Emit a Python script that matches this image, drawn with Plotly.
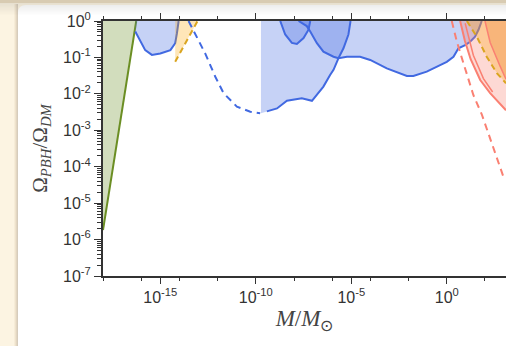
import numpy as np
import plotly.graph_objects as go

# ---------------- data (log10 values) ----------------
x_tick_exp = [-15, -10, -5, 0]
x_minor_exp = [-18, -16, -14, -12, -8, -6, -4, -2, 2]
y_tick_exp = [0, -1, -2, -3, -4, -5, -6, -7]

# evaporation bound (green)
evap_logM = [-18.0, -16.26]
evap_logf = [-5.74, 0.0]

# femtolensing-like blue bound (left)
femto_logM = [-16.31, -15.79, -15.44, -15.0, -14.47, -14.22, -14.13, -14.04]
femto_logf = [-0.29, -0.80, -0.93, -0.89, -0.80, -0.61, -0.34, 0.0]

# small gold dashed bound
gold1_logM = [-14.22, -13.05]
gold1_logf = [-1.12, 0.0]

# blue dashed projection
bdash_logM = [-13.52, -13.08, -12.65, -12.12, -11.69, -10.99, -10.29, -9.77]
bdash_logf = [0.0, -0.43, -0.89, -1.53, -1.98, -2.35, -2.49, -2.53]

# big blue bound A
blueA_logM = [-9.73, -9.42, -8.89, -8.37, -7.59, -7.06, -6.46, -6.11, -5.93,
              -5.67, -5.41, -5.15, -5.04]
blueA_logf = [-2.53, -2.48, -2.40, -2.19, -2.12, -2.19, -1.80, -1.48, -1.34,
              -1.02, -0.75, -0.37, 0.0]

# small U-shaped blue bound
blueU_logM = [-8.72, -8.46, -8.11, -7.85, -7.50, -7.24, -7.15]
blueU_logf = [0.0, -0.37, -0.60, -0.63, -0.47, -0.24, 0.0]

# microlensing blue bound B
blueB_logM = [-7.76, -7.33, -7.15, -6.80, -6.46, -5.93, -5.67, -5.23, -4.54,
              -4.01, -3.14, -2.09, -1.75, -1.05, -0.35, 0.0, 0.35, 0.61, 0.96,
              1.22, 1.48, 1.66, 1.83]
blueB_logf = [0.0, -0.14, -0.29, -0.61, -0.84, -0.98, -1.02, -0.98, -0.98,
              -1.07, -1.30, -1.51, -1.51, -1.39, -1.21, -1.12, -0.98, -0.75, -0.66,
              -0.57, -0.43, -0.24, 0.0]

# salmon dashed projection
sdash_logM = [0.26, 0.52, 0.79, 1.05, 1.39, 1.83, 2.18, 2.53, 2.96]
sdash_logf = [0.0, -0.55, -1.02, -1.48, -2.03, -2.56, -3.08, -3.63, -4.27]

# salmon filled bound (outer edge) and inner edge
salm_logM = [0.70, 0.95, 1.25, 1.55, 1.75, 2.27, 3.10]
salm_logf = [0.0, -0.55, -1.05, -1.42, -1.62, -1.98, -2.45]
salm2_logM = [0.96, 1.39, 1.92, 2.40]
salm2_logf = [-0.06, -0.94, -1.58, -1.95]

# gold dashed bound (right)
gold2_logM = [1.05, 1.57, 2.09, 2.62, 3.10]
gold2_logf = [0.0, -0.43, -0.98, -1.43, -1.71]

# orange bound (right)
orng_logM = [2.00, 2.27, 2.79, 3.10]
orng_logf = [0.0, -0.59, -1.24, -1.60]

# ---------------- helpers ----------------
W, H = 506, 346
ML, MR, MT, MB = 103, 0, 21, 70
PW, PH = W - ML - MR, H - MT - MB


def px(x):
    return (x - ML) / PW


def py(y):
    return (H - MB - y) / PH


def p10(a):
    return list(np.power(10.0, np.asarray(a, dtype=float)))


BLUE = "#4169e1"
BLUE_F = "rgba(65,105,225,0.30)"
GREEN = "#6b8e23"
GREEN_F = "rgba(107,142,35,0.30)"
GOLD = "#daa520"
GOLD_F = "rgba(255,165,0,0.28)"
SALM = "#fa8072"
SALM_F = "rgba(250,128,114,0.30)"
ORNG_F = "rgba(244,164,96,0.55)"

fig = go.Figure()


def add_fill(xs, ys, color):
    fig.add_trace(go.Scatter(x=p10(xs), y=p10(ys), mode="lines", fill="toself",
                             fillcolor=color, line=dict(width=0),
                             hoverinfo="skip", showlegend=False))


def add_line(xs, ys, color, dash="solid", width=2):
    fig.add_trace(go.Scatter(x=p10(xs), y=p10(ys), mode="lines",
                             line=dict(color=color, width=width, dash=dash),
                             hoverinfo="skip", showlegend=False))


TOP = 0.6
# green
add_fill(evap_logM + [evap_logM[-1], -18.5, -18.5],
         evap_logf + [TOP, TOP, evap_logf[0]], GREEN_F)
add_line(evap_logM, evap_logf, GREEN)

# left blue
add_fill(femto_logM + [femto_logM[-1], -16.26],
         femto_logf + [TOP, TOP], BLUE_F)
add_line(femto_logM, femto_logf, BLUE)

# small gold
add_fill(gold1_logM + [gold1_logM[-1], gold1_logM[0]],
         gold1_logf + [TOP, TOP], GOLD_F)
add_line(gold1_logM, gold1_logf, GOLD, dash="6px,4px")

# blue dashed
add_line(bdash_logM, bdash_logf, BLUE, dash="7px,5px")

# blue A
add_fill(blueA_logM + [blueA_logM[-1], blueA_logM[0]],
         blueA_logf + [TOP, TOP], BLUE_F)
add_line(blueA_logM[1:], blueA_logf[1:], BLUE)
# blue U
add_fill(blueU_logM + [blueU_logM[-1], blueU_logM[0]],
         blueU_logf + [TOP, TOP], BLUE_F)
add_line(blueU_logM, blueU_logf, BLUE)
# blue B
add_fill(blueB_logM + [blueB_logM[-1], blueB_logM[0]],
         blueB_logf + [TOP, TOP], BLUE_F)
add_line(blueB_logM, blueB_logf, BLUE)

# right salmon/orange
add_fill(salm_logM + [3.6, 3.6, salm_logM[0]],
         salm_logf + [salm_logf[-1], TOP, TOP], SALM_F)
add_fill(gold2_logM + [3.6, 3.6, gold2_logM[0]],
         gold2_logf + [gold2_logf[-1], TOP, TOP], GOLD_F)
add_fill(orng_logM + [3.6, 3.6, orng_logM[0]],
         orng_logf + [orng_logf[-1], TOP, TOP], ORNG_F)
add_line(sdash_logM, sdash_logf, SALM, dash="7px,5px")
add_line(salm_logM, salm_logf, SALM)
add_line(salm2_logM, salm2_logf, SALM, width=1.5)
add_line(orng_logM, orng_logf, SALM, width=1.5)
add_line(gold2_logM, gold2_logf, GOLD, dash="6px,4px")

# ---------------- background card (screenshot frame) ----------------
shapes = []
shapes.append(dict(type="rect", xref="paper", yref="paper",
                   x0=px(0), x1=px(W), y0=py(H), y1=py(0),
                   fillcolor="#fcf4e2", line=dict(width=0), layer="below"))
# left shadow
for i, c in enumerate(["#f6ecd8", "#eee2cc", "#e2d6c2", "#d6ccbc"]):
    shapes.append(dict(type="rect", xref="paper", yref="paper",
                       x0=px(14 + i), x1=px(15 + i + 0.01), y0=py(H), y1=py(4),
                       fillcolor=c, line=dict(width=0), layer="below"))
r = 8
x0c, y0c = 18, 5
card = (f"M {px(x0c)},{py(H + 20)} L {px(x0c)},{py(y0c + r)} "
        f"Q {px(x0c)},{py(y0c)} {px(x0c + r)},{py(y0c)} "
        f"L {px(W + 20)},{py(y0c)} L {px(W + 20)},{py(H + 20)} Z")
shapes.append(dict(type="path", xref="paper", yref="paper", path=card,
                   fillcolor="white", line=dict(width=0), layer="below"))
# top tan strip
shapes.append(dict(type="rect", xref="paper", yref="paper",
                   x0=px(0), x1=px(W), y0=py(3), y1=py(0),
                   fillcolor="#d8cbb2", line=dict(width=0), layer="below"))
# top gray gradient
for i in range(12):
    a = 0.13 * (1 - i / 12.0)
    shapes.append(dict(type="rect", xref="paper", yref="paper",
                       x0=px(0), x1=px(W), y0=py(4 + i), y1=py(3 + i),
                       fillcolor=f"rgba(90,90,90,{a:.3f})", line=dict(width=0),
                       layer="below"))

TICKC = "#333333"
tickfont = dict(family="Liberation Sans, Arial, sans-serif", size=16, color="#333333")

fig.update_layout(
    width=W, height=H,
    margin=dict(l=ML, r=MR, t=MT, b=MB, pad=0),
    paper_bgcolor="#fcf4e2",
    plot_bgcolor="white",
    shapes=shapes,
    showlegend=False,
)

fig.update_xaxes(
    type="log", range=[-18, 3.10],
    tickvals=p10(x_tick_exp),
    ticktext=[f"10<sup>{e}</sup>" for e in x_tick_exp],
    ticks="outside", ticklen=6, tickwidth=1.3, tickcolor=TICKC,
    minor=dict(tickvals=p10(x_minor_exp), ticks="outside", ticklen=3,
               tickwidth=1.1, tickcolor=TICKC, showgrid=False),
    showline=True, linecolor="#333333", linewidth=2, mirror="allticks",
    showgrid=False, zeroline=False, tickfont=tickfont,
    title=dict(text="<i>M</i>/<i>M</i><sub>\u2299</sub>",
               font=dict(family="Liberation Serif, serif", size=23, color="#444444"),
               standoff=5),
)
y_minor = [k * 10.0 ** e for e in range(-7, 0) for k in range(2, 10)]
fig.update_yaxes(
    type="log", range=[-7, 0],
    tickvals=p10(y_tick_exp),
    ticktext=[f"10<sup>{e}</sup>" for e in y_tick_exp],
    ticks="outside", ticklen=7, tickwidth=1.3, tickcolor=TICKC,
    minor=dict(tickvals=y_minor, ticks="outside", ticklen=4,
               tickwidth=1.0, tickcolor=TICKC, showgrid=False),
    showline=True, linecolor="#333333", linewidth=2, mirror=False,
    showgrid=False, zeroline=False, tickfont=tickfont,
    title=dict(text="\u03a9<sub><i>PBH</i></sub>/\u03a9<sub><i>DM</i></sub>",
               font=dict(family="Liberation Serif, serif", size=21, color="#444444"),
               standoff=10),
)

fig.write_html("out.html", config={"displayModeBar": False},
               post_script="document.body.style.margin='0';document.body.style.overflow='hidden';")
